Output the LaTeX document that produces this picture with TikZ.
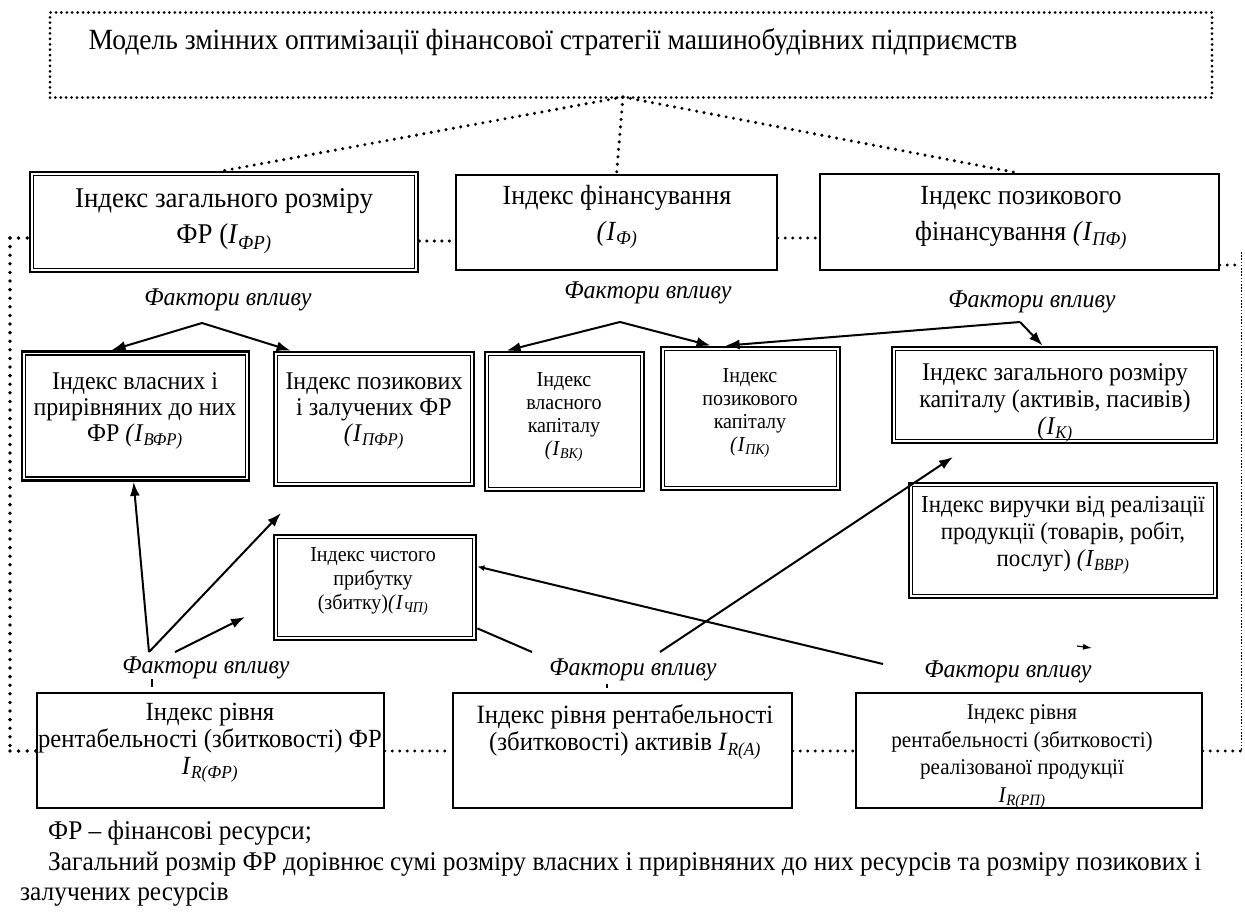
\documentclass[tikz,border=0pt]{standalone}
\usepackage{fontspec}
\setmainfont[FakeStretch=0.94]{Liberation Serif}
\usetikzlibrary{arrows.meta,calc}
\newcommand{\ix}[1]{\textit{I}\textsubscript{\textit{#1}}}
\begin{document}
\begin{tikzpicture}[x=1pt,y=-1pt,
  sbox/.style={draw, line width=1.5pt, inner sep=0pt},
  dbox/.style={draw, line width=2.8pt, inner sep=0pt},
  innerline/.style={line width=1.4pt},
  tdots/.style={line width=3pt, line cap=round, dash pattern=on 0pt off 5.4pt},
  cdots/.style={line width=3.4pt, line cap=round, dash pattern=on 0pt off 7.5pt},
  vdots/.style={line width=3.8pt, line cap=round, dash pattern=on 0pt off 8.6pt},
  fdots/.style={line width=0.7pt, dash pattern=on 1.6pt off 1.6pt},
  arr/.style={line width=2pt, -{Latex[length=14pt,width=10pt]}},
  ln/.style={line width=2pt},
  bigtxt/.style={align=center, inner sep=0pt, font=\fontsize{27.7}{36}\selectfont},
  midtxt/.style={align=center, inner sep=0pt, font=\fontsize{25.5}{26}\selectfont},
  smltxt/.style={align=center, inner sep=0pt, font=\fontsize{21.3}{23}\selectfont},
  fac/.style={inner sep=0pt, font=\fontsize{25.5}{26}\selectfont\itshape},
  note/.style={inner sep=0pt, anchor=west, font=\fontsize{27}{30}\selectfont},
]
\fill[white] (0,0) rectangle (1245,911);
\useasboundingbox (0,0) rectangle (1245,911);

% title
\node[tdots, draw, inner sep=0pt, minimum width=1162pt, minimum height=85pt] (title) at (631,55) {};
\node[inner sep=0pt, font=\fontsize{29.3}{32}\selectfont] (titlet) at (553,42) {Модель змінних оптимізації фінансової стратегії машинобудівних підприємств};

% top row
\node[dbox, minimum width=388pt, minimum height=100pt] (b1) at (224,222) {};
\node[bigtxt, font=\fontsize{28.6}{36}\selectfont] (b1t) at (224,221) {Індекс загального розміру\\ФР (\ix{ФР)}};
\node[sbox, minimum width=321pt, minimum height=95pt] (b2) at (616.5,222.5) {};
\node[bigtxt] (b2t) at (617,217) {Індекс фінансування\\\textit{(}\ix{Ф)}};
\node[sbox, minimum width=399pt, minimum height=96pt] (b3) at (1019.5,222) {};
\node[bigtxt] (b3t) at (1021,218) {Індекс позикового\\фінансування \textit{(}\ix{ПФ)}};

% middle row
\node[dbox, minimum width=227pt, minimum height=129pt] (vfr) at (135.5,416) {};
\node[midtxt] (vfrt) at (135,411) {Індекс власних і\\прирівняних до них\\ФР \textit{(}\ix{ВФР)}};
\node[dbox, minimum width=200pt, minimum height=134pt] (pfr) at (374,419) {};
\node[midtxt] (pfrt) at (374,411) {Індекс позикових\\і залучених ФР\\\textit{(}\ix{ПФР)}};
\node[dbox, minimum width=159pt, minimum height=139pt] (vk) at (564.5,421.5) {};
\node[smltxt] (vkt) at (564,417) {Індекс\\власного\\капіталу\\\textit{(}\ix{ВК)}};
\node[dbox, minimum width=179pt, minimum height=143pt] (pk) at (750.5,418.5) {};
\node[smltxt] (pkt) at (750,413) {Індекс\\позикового\\капіталу\\\textit{(}\ix{ПК)}};
\node[dbox, minimum width=325pt, minimum height=96pt] (ik) at (1054.5,395) {};
\node[midtxt, font=\fontsize{25.5}{27}\selectfont] (ikt) at (1055,403) {Індекс загального розміру\\капіталу (активів, пасивів)\\\textit{(}\ix{К)}};
\node[dbox, minimum width=308pt, minimum height=115pt] (vvr) at (1063,540.5) {};
\node[midtxt, font=\fontsize{24.4}{27}\selectfont] (vvrt) at (1063,535) {Індекс виручки від реалізації\\продукції (товарів, робіт,\\послуг) \textit{(}\ix{ВВР)}};
\node[dbox, minimum width=202pt, minimum height=105pt] (chp) at (375,587.5) {};
\node[smltxt, font=\fontsize{21.3}{24}\selectfont] (chpt) at (373,582) {Індекс чистого\\прибутку\\(збитку)\textit{(}\ix{ЧП)}};

\foreach \n in {b1,vfr,pfr,vk,pk,ik,vvr,chp}
  \draw[innerline] ([shift={(5pt,-5pt)}]\n.north west) rectangle ([shift={(-5pt,5pt)}]\n.south east);

% bottom row
\node[sbox, minimum width=347pt, minimum height=115pt] (rfr) at (210.5,750.5) {};
\node[midtxt, font=\fontsize{26.2}{27}\selectfont] (rfrt) at (210,743) {Індекс рівня\\рентабельності (збитковості) ФР\\\ix{R(ФР)}};
\node[sbox, minimum width=339pt, minimum height=115pt] (ra) at (622.5,750.5) {};
\node[midtxt, font=\fontsize{26.4}{27}\selectfont] (rat) at (625,732) {Індекс рівня рентабельності\\(збитковості) активів \ix{R(A)}};
\node[sbox, minimum width=346pt, minimum height=115pt] (rrp) at (1029,750.5) {};
\node[midtxt, font=\fontsize{22.5}{27.5}\selectfont] (rrpt) at (1022,757) {Індекс рівня\\рентабельності (збитковості)\\реалізованої продукції\\\ix{R(РП)}};

% factor labels
\node[fac] (f1) at (228,300) {Фактори впливу};
\node[fac] (f2) at (648,293) {Фактори впливу};
\node[fac] (f3) at (1032,302) {Фактори впливу};
\node[fac] (f4) at (206,668) {Фактори впливу};
\node[fac] (f5) at (633,670) {Фактори впливу};
\node[fac] (f6) at (1008,672) {Фактори впливу};

% footnote
\node[note] (n1) at (48,833) {ФР – фінансові ресурси;};
\node[note] (n2) at (48,864) {Загальний розмір ФР дорівнює сумі розміру власних і прирівняних до них ресурсів та розміру позикових і};
\node[note] (n3) at (20,894) {залучених ресурсів};

% helper coordinates
\coordinate (tS) at (623,97);
\coordinate (L1) at (10,238);
\coordinate (L2) at (10,751);
\coordinate (R1) at (1241,252);
\coordinate (R2) at (1241,751);
\coordinate (R3) at (1241,265);
\coordinate (y241) at (0,241);
\coordinate (y238) at (0,238);
\coordinate (y265) at (0,265);
\coordinate (ap1) at (202,323);
\coordinate (ap2) at (620,322);
\coordinate (ap3) at (1020,322);
\coordinate (s1) at (149,652);
\coordinate (s1b) at (175,652);
\coordinate (s2a) at (532,652);
\coordinate (s2b) at (660,652);
\coordinate (s2c) at (883,664);
\coordinate (e1) at (281,513);
\coordinate (e2) at (245,617);
\coordinate (e3) at (953,457);
\coordinate (k1a) at (152,679);
\coordinate (k1b) at (152,687);
\coordinate (k2a) at (607,684);
\coordinate (k2b) at (607,688);
\coordinate (ta1) at (1077,646);
\coordinate (ta2) at (1092,648);

% dotted connectors
\draw[cdots] (tS) -- (b1.north);
\draw[cdots] (tS) -- (b2.north);
\draw[cdots] (tS) -- (b3.north);
\draw[vdots] (L1) -- (L2);
\draw[vdots] (L1) -- (L1 -| b1.west);
\draw[cdots] (b1.east |- y241) -- (b2.west |- y241);
\draw[cdots] (b2.east |- y238) -- (b3.west |- y238);
\draw[cdots] (b3.east |- y265) -- (R3);
\draw[fdots] (R1) -- (R2);
\draw[vdots] (L2) -- (L2 -| rfr.west);
\draw[cdots] (rfr.east |- L2) -- (ra.west |- L2);
\draw[cdots] (ra.east |- L2) -- (rrp.west |- L2);
\draw[cdots] (rrp.east |- R2) -- (R2);

% factor arrows, upper
\draw[arr] (ap1) -- ([xshift=91pt]vfr.north west);
\draw[arr] (ap1) -- ([xshift=18pt]pfr.north west);
\draw[arr] (ap2) -- ([xshift=23pt]vk.north west);
\draw[arr] (ap2) -- ([xshift=51pt]pk.north west);
\draw[arr] (ap3) -- ([xshift=66pt]pk.north west);
\draw[arr] (ap3) -- ([xshift=152pt]ik.north west);

% factor arrows, lower
\draw[arr] (s1) -- ([xshift=113pt]vfr.south west);
\draw[arr] (s1) -- (e1);
\draw[arr] (s1b) -- (e2);
\draw[ln] (k1a) -- (k1b);
\draw[ln] ([yshift=13pt]chp.south east) -- (s2a);
\draw[arr] (s2b) -- (e3);
\draw[line width=2pt, -{Latex[length=7pt,width=6pt]}] (s2c) -- ([yshift=21pt]chp.east);
\draw[ln] (k2a) -- (k2b);
\draw[line width=1.2pt, -{Latex[length=9pt,width=6pt]}] (ta1) -- (ta2);
\end{tikzpicture}
\end{document}
